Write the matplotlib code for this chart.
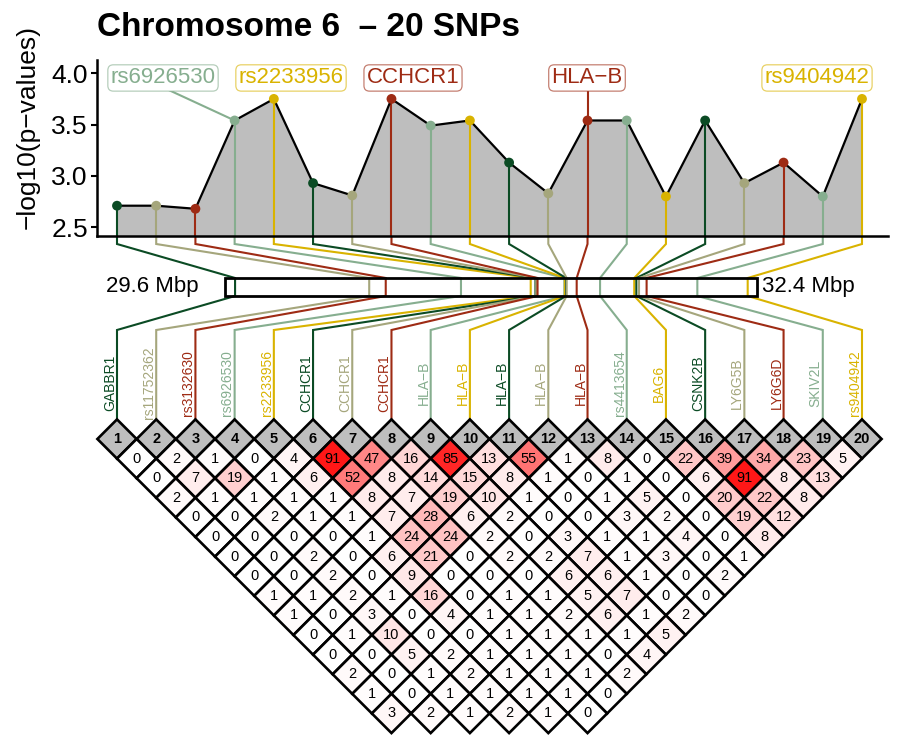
import matplotlib
matplotlib.use("Agg")
import matplotlib.pyplot as plt
from matplotlib.patches import Polygon, Rectangle
from matplotlib.colors import to_rgba

plt.rcParams['font.family'] = ['Liberation Sans', 'DejaVu Sans']

# ---------------- data ----------------
title = "Chromosome 6  \u2013 20 SNPs"
snp_index = list(range(1, 21))
gene_labels = ["GABBR1", "rs11752362", "rs3132630", "rs6926530", "rs2233956",
               "CCHCR1", "CCHCR1", "CCHCR1", "HLA\u2212B", "HLA\u2212B", "HLA\u2212B",
               "HLA\u2212B", "HLA\u2212B", "rs4413654", "BAG6", "CSNK2B", "LY6G5B",
               "LY6G6D", "SKIV2L", "rs9404942"]
neg_log10_p = [2.71, 2.71, 2.68, 3.54, 3.75, 2.93, 2.81, 3.75, 3.49, 3.54,
               3.13, 2.83, 3.54, 3.54, 2.80, 3.54, 2.93, 3.13, 2.80, 3.75]
position_mbp = [29.653, 30.359, 30.446, 30.842, 31.209, 31.234, 31.238, 31.245,
                31.386, 31.389, 31.395, 31.398, 31.451, 31.574, 31.754, 31.765,
                31.779, 31.819, 32.086, 32.351]
region_mbp = [29.6, 32.4]
highlighted_snps = [4, 5, 8, 13, 20]
y_ticks = [2.5, 3.0, 3.5, 4.0]

# LD values (x100) by distance between SNPs (d = j - i)
ld_d1 = [0, 2, 1, 0, 4, 91, 47, 16, 85, 13, 55, 1, 8, 0, 22, 39, 34, 23, 5]
ld_d2 = [0, 7, 19, 1, 6, 52, 8, 14, 15, 8, 1, 0, 1, 0, 6, 91, 8, 13]
ld_d3 = [2, 1, 1, 1, 1, 8, 7, 19, 10, 1, 0, 1, 5, 0, 20, 22, 8]
ld_d4 = [0, 0, 2, 1, 1, 7, 28, 6, 2, 0, 0, 3, 2, 0, 19, 12]
ld_d5 = [0, 0, 0, 0, 1, 24, 24, 2, 0, 3, 1, 1, 4, 0, 8]
ld_d6 = [0, 0, 2, 0, 6, 21, 0, 2, 2, 7, 1, 3, 0, 1]
ld_d7 = [0, 0, 2, 0, 9, 0, 0, 0, 6, 6, 1, 0, 2]
ld_d8 = [1, 1, 2, 1, 16, 0, 1, 1, 5, 7, 0, 0]
ld_d9 = [1, 0, 3, 0, 4, 1, 1, 2, 6, 1, 2]
ld_d10 = [0, 1, 10, 0, 0, 1, 1, 1, 1, 5]
ld_d11 = [0, 0, 5, 2, 1, 1, 1, 0, 4]
ld_d12 = [2, 0, 1, 2, 1, 1, 1, 2]
ld_d13 = [1, 0, 1, 1, 1, 1, 0]
ld_d14 = [3, 2, 1, 2, 1, 0]
ld_by_distance = [ld_d1, ld_d2, ld_d3, ld_d4, ld_d5, ld_d6, ld_d7, ld_d8, ld_d9,
                  ld_d10, ld_d11, ld_d12, ld_d13, ld_d14]

# ---------------- styles / layout ----------------
palette = ["#0B4B24", "#A5A67C", "#9E2B14", "#86AE8F", "#D9B300"]
snp_colors = [palette[(i - 1) % 5] for i in snp_index]

W, H = 900, 750
PX_UNIT = 39.21   # pixels per SNP step
X_FIRST = 117     # pixel x of SNP 1
ROW0 = 439        # pixel y of the numbered diamond row


def idx_x(px):
    return 1 + (px - X_FIRST) / PX_UNIT


def low_y(py):
    return (ROW0 - py) / PX_UNIT


fig = plt.figure(figsize=(W / 100, H / 100), dpi=100)

# ---------------- lower panel: gene map + LD heatmap ----------------
axb = fig.add_axes([0, 0, 1, 1 - 236 / H])
axb.set_xlim(idx_x(0), idx_x(W))
axb.set_ylim(low_y(H), low_y(236))
axb.axis('off')

bar_x0, bar_x1 = idx_x(225), idx_x(757)


def mbp_to_x(m):
    return bar_x0 + (m - region_mbp[0]) / (region_mbp[1] - region_mbp[0]) * (bar_x1 - bar_x0)


y_top, y_bend1, y_bar_top, y_bar_bot, y_bend2, y_diam = (
    low_y(236), low_y(244), low_y(278), low_y(296), low_y(330), 0.5)

for i, m, col, lab in zip(snp_index, position_mbp, snp_colors, gene_labels):
    bx = mbp_to_x(m)
    axb.plot([i, i, bx, bx, i, i],
             [y_top, y_bend1, y_bar_top, y_bar_bot, y_bend2, y_diam],
             color=col, lw=1.5, solid_joinstyle='miter', zorder=2)
    axb.text(i - 0.08, low_y(383), lab, rotation=90, rotation_mode='anchor',
             ha='center', va='baseline', color=col, fontsize=10, zorder=3)

axb.add_patch(Rectangle((bar_x0, y_bar_bot), bar_x1 - bar_x0, y_bar_top - y_bar_bot,
                        fill=False, ec='black', lw=2.0, zorder=4))
axb.text(idx_x(199), low_y(287), f"{region_mbp[0]:.1f} Mbp", ha='right', va='center',
         fontsize=16)
axb.text(idx_x(762), low_y(287), f"{region_mbp[1]:.1f} Mbp", ha='left', va='center',
         fontsize=16)


def diamond(cx, cy):
    return [(cx, cy + 0.5), (cx + 0.5, cy), (cx, cy - 0.5), (cx - 0.5, cy)]


for i in snp_index:
    axb.add_patch(Polygon(diamond(i, 0), closed=True, fc='#BEBEBE', ec='black',
                          lw=1.9, joinstyle='miter', zorder=5))
    axb.text(i, 0, str(i), ha='center', va='center', fontsize=10.5,
             fontweight='bold', zorder=6)

for d, row in enumerate(ld_by_distance, start=1):
    for k, v in enumerate(row):
        i = k + 1
        j = i + d
        cx, cy = (i + j) / 2, -d / 2
        f = 1 - v / 100
        axb.add_patch(Polygon(diamond(cx, cy), closed=True, fc=(1, f, f),
                              ec='black', lw=1.9, joinstyle='miter', zorder=5))
        axb.text(cx, cy, str(v), ha='center', va='center', fontsize=10.5, zorder=6)

# ---------------- upper panel: p-values ----------------
ylo, yhi = 2.415, 4.129
axt = fig.add_axes([97 / W, 1 - 236 / H, (888 - 97) / W, (236 - 60) / H])
axt.patch.set_alpha(0)
axt.set_xlim(idx_x(97), idx_x(888))
axt.set_ylim(ylo, yhi)
axt.fill_between(snp_index, neg_log10_p, ylo, color='#BEBEBE', lw=0, zorder=1)
axt.vlines(snp_index, ylo, neg_log10_p, colors=snp_colors, lw=1.5, zorder=2)
axt.plot(snp_index, neg_log10_p, color='black', lw=1.6, zorder=3)
axt.scatter(snp_index, neg_log10_p, c=snp_colors, s=50, edgecolors='none', zorder=4)

axt.set_yticks(y_ticks)
axt.set_yticklabels([f"{t:.1f}" for t in y_ticks])
axt.set_xticks([])
axt.tick_params(axis='y', labelsize=19, length=4.5, width=1.5, pad=2)
for s in ['top', 'right']:
    axt.spines[s].set_visible(False)
for s in ['left', 'bottom']:
    axt.spines[s].set_linewidth(1.8)
axt.set_ylabel("\u2212log10(p\u2212values)", fontsize=19)
axt.yaxis.set_label_coords((40 - 97) / (888 - 97), (236 - 127) / (236 - 60))

# labels of highlighted SNPs
label_x_px = {4: 163, 5: 291, 8: 413, 13: 587, 20: 817}
label_y = 3.954
seg_start_px = {4: 168, 13: 587}
for s in highlighted_snps:
    col = snp_colors[s - 1]
    lx = idx_x(label_x_px[s])
    if s in seg_start_px:
        sx = s if s == 13 else idx_x(seg_start_px[s])
        axt.plot([sx, s], [3.84, neg_log10_p[s - 1]], color=col, lw=1.5, zorder=3)
    axt.text(lx, label_y, gene_labels[s - 1], color=col, fontsize=16,
             ha='center', va='center', zorder=6, clip_on=False,
             bbox=dict(boxstyle='round,pad=0.12,rounding_size=0.25', fc='white',
                       ec=to_rgba(col, 0.6), lw=0.9))

fig.text(97 / W, 1 - 28 / H, title, fontsize=24, fontweight='bold',
         ha='left', va='center')

fig.savefig("out.png", dpi=100)
